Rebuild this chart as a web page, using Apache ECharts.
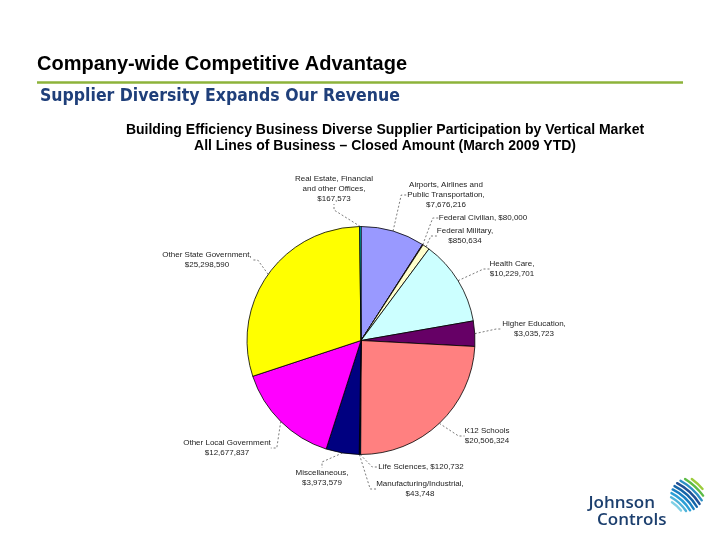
<!DOCTYPE html>
<html><head><meta charset="utf-8">
<script src="https://cdn.jsdelivr.net/npm/echarts@6/dist/echarts.min.js"></script>
<style>html,body{margin:0;padding:0;background:#fff}#c{width:720px;height:540px}</style>
</head><body><div id="c"></div>
<script>
const categories = ['Airports, Airlines and Public Transportation','Federal Civilian','Federal Military','Health Care','Higher Education','K12 Schools','Life Sciences','Manufacturing/Industrial','Miscellaneous','Other Local Government','Other State Government','Real Estate, Financial and other Offices'];
const values = [7676216, 80000, 850634, 10229701, 3035723, 20506324, 120732, 43748, 3973579, 12677837, 25298590, 167573];
const labelTexts = ['Airports, Airlines and\nPublic Transportation,\n$7,676,216','Federal Civilian, $80,000','Federal Military,\n$850,634','Health Care,\n$10,229,701','Higher Education,\n$3,035,723','K12 Schools\n$20,506,324','Life Sciences, $120,732','Manufacturing/Industrial,\n$43,748','Miscellaneous,\n$3,973,579','Other Local Government\n$12,677,837','Other State Government,\n$25,298,590','Real Estate, Financial\nand other Offices,\n$167,573'];
const colors = ['#9999FF','#993366','#FFFFCC','#CCFFFF','#660066','#FF8080','#0066CC','#CCCCFF','#000080','#FF00FF','#FFFF00','#00FFFF'];
const labelPos = [[446,195],[483,218],[465,236],[512,269],[534,329],[487,436],[421,467],[420,489],[322,478],[227,448],[207,260],[334,189]];

const chart = echarts.init(document.getElementById('c'));

// logo emblem: curved stripes inside a circle
const icon = [];
const stripeCols = ['#7fd0e6','#4fb3d9','#2a9fd6','#1a7fc1','#1565a8','#1f4f95','#2d8fc4','#5dbb46','#9ccc3c'];
const L = {x:687, y:495, r:17}, A = {x:650, y:535};
const dx = L.x - A.x, dy = L.y - A.y, d = Math.hypot(dx, dy);
for (let k = 0; k < stripeCols.length; k++) {
  const r = d - 15 + k * 3.8;
  const a = (r * r - L.r * L.r + d * d) / (2 * d);
  const h2 = r * r - a * a;
  if (h2 <= 0) continue;
  const h = Math.sqrt(h2);
  const base = Math.atan2(dy, dx);
  const half = Math.atan2(h, a);
  icon.push({type:'arc',shape:{cx:A.x,cy:A.y,r:r,startAngle:base-half*0.9,endAngle:base+half*0.9},
    style:{stroke:stripeCols[k],lineWidth:2.4,fill:null,lineCap:'round'}});
}
chart.setOption({
  animation:false,
  backgroundColor:'#fff',
  graphic:[
    {type:'text',left:37,top:54,style:{text:'Company-wide Competitive Advantage',font:'bold 20px "Liberation Sans", Arial',fill:'#000'}},
    {type:'line',shape:{x1:37,y1:82.5,x2:683,y2:82.5},style:{stroke:'#8db33a',lineWidth:2.5}},
    {type:'text',left:40,top:87,style:{text:'Supplier Diversity Expands Our Revenue',font:'bold 17.5px "DejaVu Sans Condensed", "Noto Sans", sans-serif',fill:'#1f3f7a'}},
    {type:'text',x:385,y:130,style:{text:'Building Efficiency Business Diverse Supplier Participation by Vertical Market',font:'bold 14px "Liberation Sans", Arial',fill:'#000',align:'center',verticalAlign:'middle'}},
    {type:'text',x:385,y:146,style:{text:'All Lines of Business \u2013 Closed Amount (March 2009 YTD)',font:'bold 14px "Liberation Sans", Arial',fill:'#000',align:'center',verticalAlign:'middle'}},
    {type:'text',x:655,y:503,style:{text:'Johnson',font:'600 17px "Open Sans", sans-serif',fill:'#1c3f6e',align:'right',verticalAlign:'middle'}},
    {type:'text',x:597,y:520,style:{text:'Controls',font:'600 17px "Open Sans", sans-serif',fill:'#1c3f6e',align:'left',verticalAlign:'middle'}},
    {type:'group',children:icon}
  ],
  series:[{
    type:'pie',
    center:[361,340.5],
    radius:114,
    startAngle:90,
    clockwise:true,
    color:colors,
    itemStyle:{borderColor:'#000',borderWidth:0.8},
    data:categories.map((c,i)=>({name:c,value:values[i]})),
    label:{show:true,position:'outside',formatter:p=>labelTexts[p.dataIndex],fontFamily:'"Liberation Sans", Arial',fontSize:8,lineHeight:10,color:'#222'},
    labelLine:{show:true,length:8,length2:6,lineStyle:{color:'#444',width:0.7,type:[2,2]}},
    labelLayout:function(p){const q=labelPos[p.dataIndex];return {x:q[0],y:q[1],align:'center',verticalAlign:'middle'};},
    emphasis:{disabled:true}
  }]
});
</script></body></html>
